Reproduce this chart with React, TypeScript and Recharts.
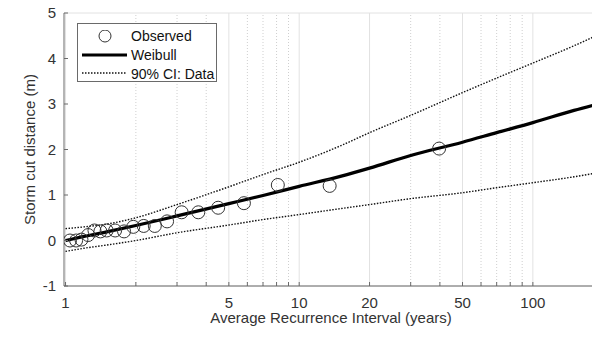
import React from "react";
import {
  CartesianGrid,
  ComposedChart,
  Label,
  Line,
  ReferenceLine,
  Scatter,
  XAxis,
  YAxis,
} from "recharts";

// recurrence interval (years) and cut distance (m)
const observedT = [1.045, 1.11, 1.17, 1.25, 1.33, 1.41, 1.5, 1.63, 1.78, 1.95, 2.16, 2.41, 2.72, 3.14, 3.7, 4.5, 5.8, 8.1, 13.5, 39.7];
const observedV = [0, 0, 0.02, 0.12, 0.22, 0.2, 0.22, 0.22, 0.2, 0.3, 0.32, 0.32, 0.42, 0.62, 0.62, 0.72, 0.82, 1.22, 1.2, 2.02];

const fitT = [1, 1.2, 1.5, 2, 3, 5, 7, 10, 15, 20, 30, 50, 70, 100, 150, 190];
const weibullV = [0, 0.09, 0.19, 0.33, 0.54, 0.81, 0.99, 1.19, 1.41, 1.59, 1.87, 2.16, 2.37, 2.59, 2.86, 3.0];
const upperV = [0.26, 0.3, 0.36, 0.5, 0.79, 1.18, 1.45, 1.72, 2.08, 2.37, 2.75, 3.25, 3.57, 3.9, 4.28, 4.52];
const lowerV = [-0.24, -0.17, -0.1, 0, 0.17, 0.34, 0.46, 0.57, 0.7, 0.79, 0.92, 1.05, 1.16, 1.27, 1.4, 1.49];

const majorTicks = [1, 5, 10, 20, 50, 100];
const minorTicks = [2, 3, 4, 6, 7, 8, 9, 30, 40, 60, 70, 80, 90];
const yTicks = [-1, 0, 1, 2, 3, 4, 5];
const legendLabels = ["Observed", "Weibull", "90% CI: Data"];

const X_DOMAIN: [number, number] = [0.985, 190];
const AXIS = "#6a6a6a";
const TEXT = "#333";
const GRID = "#e2e2e2";
const FONT = '"Liberation Sans", Arial, sans-serif';

const allTicks = [...majorTicks, ...minorTicks].sort((a, b) => a - b);
const xLabel = (v: number) => (majorTicks.includes(v) ? String(v) : "");

const observed = observedT.map((t, i) => ({ t, v: observedV[i] }));
const weibull = fitT.map((t, i) => ({ t, v: weibullV[i] }));
const upper = fitT.map((t, i) => ({ t, v: upperV[i] }));
const lower = fitT.map((t, i) => ({ t, v: lowerV[i] }));

function OpenCircle(props: any) {
  const { cx, cy } = props;
  if (cx == null || cy == null) return null;
  return <circle cx={cx} cy={cy} r={6.5} fill="none" stroke="#333" strokeWidth={1} />;
}

function LegendBox() {
  const icons = [
    <circle key="c" cx={23} cy={6} r={6} fill="none" stroke="#333" strokeWidth={1} />,
    <line key="w" x1={0} y1={6} x2={45} y2={6} stroke="#000" strokeWidth={3} />,
    <line key="d" x1={0} y1={6} x2={45} y2={6} stroke="#111" strokeWidth={1.3} strokeDasharray="1.5 1.5" />,
  ];
  return (
    <div
      style={{
        position: "absolute",
        left: 77,
        top: 23,
        width: 140,
        height: 59,
        border: `1px solid ${AXIS}`,
        background: "#fff",
        fontSize: 14,
        color: "#111",
        boxSizing: "border-box",
        paddingTop: 3,
      }}
    >
      {legendLabels.map((label, i) => (
        <div key={label} style={{ display: "flex", alignItems: "center", height: 18.7 }}>
          <svg width={45} height={13} style={{ marginLeft: 4, marginRight: 4 }}>
            {icons[i]}
          </svg>
          <span>{label}</span>
        </div>
      ))}
    </div>
  );
}

export default function App() {
  return (
    <div
      style={{
        position: "absolute",
        left: 0,
        top: 0,
        width: 592,
        height: 337,
        overflow: "hidden",
        background: "#fff",
        fontFamily: FONT,
      }}
    >
      <ComposedChart width={598} height={337} margin={{ top: 13, right: 0, bottom: 0, left: 0 }}>
        <CartesianGrid vertical={false} stroke={GRID} />
        {majorTicks.map((t) => (
          <ReferenceLine key={`M${t}`} x={t} xAxisId="bottom" yAxisId="left" stroke={GRID} />
        ))}
        {minorTicks.map((t) => (
          <ReferenceLine
            key={`m${t}`}
            x={t}
            xAxisId="bottom"
            yAxisId="left"
            stroke="#cfcfcf"
            strokeDasharray="1 2"
          />
        ))}
        <XAxis
          xAxisId="bottom"
          dataKey="t"
          type="number"
          scale="log"
          domain={X_DOMAIN}
          allowDataOverflow
          ticks={allTicks}
          interval={0}
          tickFormatter={xLabel}
          height={51}
          tickSize={-4}
          tickMargin={15}
          tick={{ fontSize: 15, fill: TEXT }}
          axisLine={{ stroke: AXIS }}
          tickLine={{ stroke: AXIS }}
        >
          <Label
            value="Average Recurrence Interval (years)"
            position="insideBottom"
            offset={14}
            style={{ fontSize: 15, fill: TEXT }}
          />
        </XAxis>
        <XAxis
          xAxisId="top"
          orientation="top"
          dataKey="t"
          type="number"
          scale="log"
          domain={X_DOMAIN}
          allowDataOverflow
          ticks={allTicks}
          interval={0}
          tickFormatter={() => ""}
          height={0}
          tickSize={-4}
          axisLine={{ stroke: AXIS }}
          tickLine={{ stroke: AXIS }}
        />
        <YAxis
          yAxisId="left"
          type="number"
          domain={[-1, 5]}
          ticks={yTicks}
          interval={0}
          width={64}
          tickSize={-4}
          tickMargin={12}
          tick={{ fontSize: 15, fill: TEXT }}
          axisLine={{ stroke: AXIS }}
          tickLine={{ stroke: AXIS }}
        >
          <Label
            content={(props: any) => {
              const vb = props.viewBox || { x: 0, y: 13, width: 64, height: 273 };
              const x = vb.x + 34.5;
              const y = vb.y + vb.height / 2;
              return (
                <text
                  x={x}
                  y={y}
                  transform={`rotate(-90 ${x} ${y})`}
                  textAnchor="middle"
                  fontSize={15}
                  fill={TEXT}
                >
                  Storm cut distance (m)
                </text>
              );
            }}
          />
        </YAxis>
        <Scatter
          data={observed}
          dataKey="v"
          xAxisId="bottom"
          yAxisId="left"
          shape={OpenCircle}
          isAnimationActive={false}
        />
        <Line
          data={weibull}
          dataKey="v"
          xAxisId="bottom"
          yAxisId="left"
          type="monotone"
          stroke="#000"
          strokeWidth={3.2}
          dot={false}
          activeDot={false}
          isAnimationActive={false}
        />
        <Line
          data={upper}
          dataKey="v"
          xAxisId="bottom"
          yAxisId="left"
          type="monotone"
          stroke="#111"
          strokeWidth={1.4}
          strokeDasharray="1.5 1.5"
          dot={false}
          activeDot={false}
          isAnimationActive={false}
        />
        <Line
          data={lower}
          dataKey="v"
          xAxisId="bottom"
          yAxisId="left"
          type="monotone"
          stroke="#111"
          strokeWidth={1.4}
          strokeDasharray="1.5 1.5"
          dot={false}
          activeDot={false}
          isAnimationActive={false}
        />
      </ComposedChart>
      <LegendBox />
    </div>
  );
}
